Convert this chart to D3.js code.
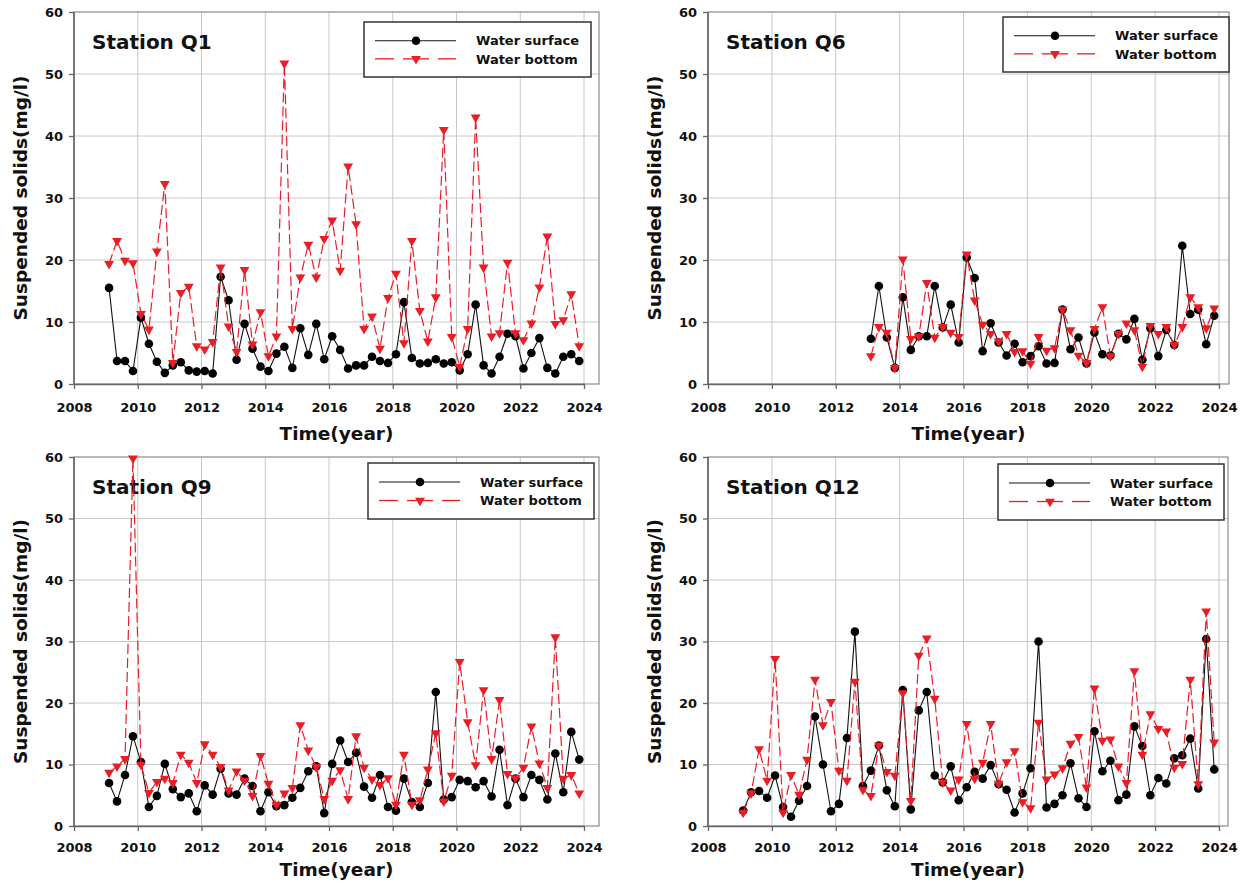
<!DOCTYPE html>
<html>
<head>
<meta charset="utf-8">
<script src="https://cdn.jsdelivr.net/npm/d3@7"></script>
<style>
  body { margin: 0; background: #fff; }
  svg text { font-family: "DejaVu Sans", Verdana, sans-serif; font-weight: bold; fill: #111; }
</style>
</head>
<body>
<svg id="chart" width="1243" height="886"></svg>
<script>
// sampling: one value per quarter, 2009 Q1 .. 2023 Q4
var firstYear = 2009;
var xTicks = [2008, 2010, 2012, 2014, 2016, 2018, 2020, 2022, 2024];
var yTicks = [0, 10, 20, 30, 40, 50, 60];
var seriesNames = ["Water surface", "Water bottom"];

var q1Surface = [15.5, 3.7, 3.7, 2.1, 10.7, 6.5, 3.6, 1.8, 3.0, 3.5,
  2.2, 2.0, 2.1, 1.7, 17.3, 13.5, 3.9, 9.7, 5.7, 2.8,
  2.1, 4.9, 6.0, 2.6, 9.0, 4.7, 9.7, 4.0, 7.7, 5.5,
  2.5, 3.0, 3.0, 4.4, 3.7, 3.4, 4.8, 13.2, 4.2, 3.3,
  3.4, 4.0, 3.3, 3.5, 2.2, 4.8, 12.8, 3.0, 1.7, 4.4,
  8.1, 7.7, 2.5, 5.0, 7.4, 2.6, 1.7, 4.4, 4.8, 3.7];
var q1Bottom = [19.4, 23.1, 19.9, 19.5, 11.3, 8.8, 21.4, 32.3, 3.4, 14.7,
  15.7, 6.1, 5.6, 6.8, 18.8, 9.3, 5.2, 18.4, 6.4, 11.6,
  4.5, 7.7, 51.7, 8.9, 17.2, 22.5, 17.2, 23.4, 26.4, 18.3,
  35.1, 25.8, 8.9, 10.9, 5.7, 13.9, 17.8, 6.6, 23.1, 11.8,
  6.9, 14.0, 41.0, 7.6, 2.8, 8.9, 43.0, 18.8, 7.7, 8.2,
  19.6, 8.2, 7.1, 9.8, 15.6, 23.8, 9.7, 10.3, 14.5, 6.1];

// Q6 starts in 2013 Q1
var q6Surface = [7.3, 15.8, 7.5, 2.6, 14.0, 5.5, 7.7, 7.7, 15.8, 9.1, 12.8, 6.7,
  20.4, 17.1, 5.3, 9.8, 6.7, 4.6, 6.5, 3.5, 4.5, 6.1,
  3.3, 3.4, 12.0, 5.6, 7.5, 3.3, 8.3, 4.8, 4.6, 8.1,
  7.2, 10.5, 3.9, 9.0, 4.5, 8.7, 6.3, 22.3, 11.3, 12.0, 6.4, 11.0];
var q6Bottom = [4.5, 9.2, 8.3, 2.6, 20.1, 7.3, 7.7, 16.3, 7.5, 9.2, 8.3, 7.6,
  20.9, 13.5, 9.6, 8.1, 6.9, 8.1, 5.2, 5.3, 3.3, 7.6,
  5.4, 5.8, 12.0, 8.7, 4.6, 3.4, 8.9, 12.4, 4.5, 8.1,
  9.8, 8.7, 2.8, 9.4, 8.1, 9.2, 6.3, 9.2, 14.0, 12.4, 9.0, 12.2];

var q9Surface = [7.0, 4.0, 8.3, 14.6, 10.4, 3.1, 4.9, 10.1, 6.0, 4.7,
  5.3, 2.4, 6.6, 5.1, 9.3, 5.3, 5.1, 7.7, 6.5, 2.4,
  5.5, 3.2, 3.4, 4.6, 6.2, 8.9, 9.7, 2.1, 10.1, 13.9,
  10.4, 11.9, 6.4, 4.6, 8.3, 3.1, 2.5, 7.7, 3.9, 3.1,
  7.0, 21.8, 4.3, 4.7, 7.5, 7.3, 6.3, 7.3, 4.8, 12.4,
  3.4, 7.7, 4.7, 8.3, 7.5, 4.3, 11.8, 5.5, 15.3, 10.8];
var q9Bottom = [8.7, 9.7, 10.9, 59.8, 10.0, 5.4, 7.2, 7.7, 7.0, 11.6,
  10.3, 7.0, 13.3, 11.6, 9.6, 5.8, 8.9, 7.4, 4.9, 11.4,
  6.9, 3.5, 5.3, 6.2, 16.4, 12.3, 9.6, 4.4, 7.4, 9.1,
  4.4, 14.6, 9.5, 7.6, 6.7, 7.8, 3.5, 11.6, 3.5, 4.2,
  9.2, 15.1, 4.0, 8.2, 26.7, 16.9, 9.9, 22.1, 10.9, 20.5,
  8.5, 7.8, 9.5, 16.2, 10.2, 6.2, 30.7, 7.7, 8.3, 5.3];

var q12Surface = [2.5, 5.5, 5.7, 4.6, 8.2, 3.1, 1.5, 4.1, 6.5, 17.8,
  10.0, 2.4, 3.6, 14.3, 31.6, 6.5, 9.0, 13.1, 5.8, 3.2,
  22.1, 2.7, 18.8, 21.8, 8.2, 7.1, 9.7, 4.2, 6.3, 8.8,
  7.7, 9.9, 6.8, 5.9, 2.2, 5.3, 9.4, 30.0, 3.0, 3.6,
  5.0, 10.2, 4.5, 3.1, 15.4, 8.9, 10.6, 4.2, 5.1, 16.2,
  13.0, 5.0, 7.8, 6.9, 11.0, 11.5, 14.2, 6.1, 30.4, 9.2];
var q12Bottom = [2.2, 5.3, 12.5, 7.4, 27.2, 2.2, 8.3, 5.1, 10.8, 23.8,
  16.4, 20.2, 9.0, 7.4, 23.5, 5.9, 4.9, 13.1, 8.8, 8.2,
  21.6, 4.1, 27.7, 30.5, 20.7, 7.1, 5.8, 7.6, 16.6, 7.7,
  10.3, 16.6, 6.9, 10.4, 12.2, 3.9, 2.9, 16.8, 7.6, 8.4,
  9.4, 13.4, 14.5, 6.3, 22.4, 13.9, 14.1, 9.7, 7.0, 25.2,
  11.6, 18.2, 15.8, 15.4, 9.5, 10.1, 23.8, 6.8, 34.9, 13.6];

var panels = [
  { title: "Station Q1", surface: q1Surface, bottom: q1Bottom, startQ: 0, pad: 14, xlab: 56,
    box: { l: 74, t: 12, r: 599, b: 384, x24: 584 }, legend: { x: 364, y: 22, w: 227, h: 55 } },
  { title: "Station Q6", surface: q6Surface, bottom: q6Bottom, startQ: 16, pad: 14, xlab: 56,
    box: { l: 708, t: 12, r: 1229, b: 384, x24: 1219 }, legend: { x: 1003, y: 17, w: 226, h: 55 } },
  { title: "Station Q9", surface: q9Surface, bottom: q9Bottom, startQ: 0, pad: 12, xlab: 50,
    box: { l: 74, t: 457, r: 599, b: 826, x24: 584 }, legend: { x: 368, y: 463, w: 226, h: 56 } },
  { title: "Station Q12", surface: q12Surface, bottom: q12Bottom, startQ: 0, pad: 12, xlab: 50,
    box: { l: 708, t: 457, r: 1228, b: 826, x24: 1219 }, legend: { x: 998, y: 464, w: 226, h: 56 } }
];

var red = "#ec1c24";
var svg = d3.select("#chart");
svg.append("rect").attr("width", 1243).attr("height", 886).attr("fill", "#fff");

function toPoints(values, startQ) {
  return values.map(function(v, i) {
    return { t: firstYear + 0.1 + (startQ + i) / 4, v: v };
  });
}

var triangle = d3.symbol().type(d3.symbolTriangle).size(42);

panels.forEach(function(p) {
  var b = p.box;
  var x = d3.scaleLinear().domain([2008, 2024]).range([b.l, b.x24]);
  var y = d3.scaleLinear().domain([0, 60]).range([b.b, b.t]);
  var g = svg.append("g");

  // grid
  g.append("g").selectAll("line").data(yTicks.slice(1, -1)).enter().append("line")
    .attr("x1", b.l).attr("x2", b.r).attr("y1", d => y(d)).attr("y2", d => y(d))
    .attr("stroke", "#c8c8c8").attr("stroke-width", 1);
  g.append("g").selectAll("line").data(xTicks.slice(1)).enter().append("line")
    .attr("x1", d => x(d)).attr("x2", d => x(d)).attr("y1", b.t).attr("y2", b.b)
    .attr("stroke", "#c8c8c8").attr("stroke-width", 1);
  g.append("rect").attr("x", b.l).attr("y", b.t).attr("width", b.r - b.l).attr("height", b.b - b.t)
    .attr("fill", "none").attr("stroke", "#8a8a8a").attr("stroke-width", 1.2);

  // axes
  var ax = g.append("g").attr("transform", "translate(0," + b.b + ")")
    .call(d3.axisBottom(x).tickValues(xTicks).tickFormat(d3.format("d")).tickSize(5).tickSizeOuter(0).tickPadding(p.pad));
  var ay = g.append("g").attr("transform", "translate(" + b.l + ",0)")
    .call(d3.axisLeft(y).tickValues(yTicks).tickSize(5).tickSizeOuter(0).tickPadding(6));
  [ax, ay].forEach(function(a) {
    a.select(".domain").attr("stroke", "#666").attr("stroke-width", 1.6);
    a.selectAll(".tick line").attr("stroke", "#666").attr("stroke-width", 1.3);
    a.selectAll(".tick text").style("font-size", "13px").attr("fill", "#111");
  });
  ay.select(".domain").attr("d", "M0," + b.b + "V" + b.t);

  // labels
  g.append("text").attr("x", (b.l + b.r) / 2).attr("y", b.b + p.xlab)
    .attr("text-anchor", "middle").style("font-size", "18.5px").text("Time(year)");
  g.append("text").attr("transform", "translate(" + (b.l - 54) + "," + ((b.t + b.b) / 2) + ") rotate(-90)")
    .attr("text-anchor", "middle").attr("dy", "0.36em").style("font-size", "18.5px")
    .text("Suspended solids(mg/l)");
  g.append("text").attr("x", b.l + 18).attr("y", b.t + 36.5).style("font-size", "20px").text(p.title);

  // series
  var line = d3.line().x(d => x(d.t)).y(d => y(d.v));
  var sPts = toPoints(p.surface, p.startQ);
  var bPts = toPoints(p.bottom, p.startQ);

  g.append("path").datum(sPts).attr("d", line).attr("fill", "none")
    .attr("stroke", "#111").attr("stroke-width", 1.1);
  g.append("g").selectAll("circle").data(sPts).enter().append("circle")
    .attr("cx", d => x(d.t)).attr("cy", d => y(d.v)).attr("r", 4.3).attr("fill", "#000");

  g.append("path").datum(bPts).attr("d", line).attr("fill", "none")
    .attr("stroke", red).attr("stroke-width", 1.2).attr("stroke-dasharray", "10,4");
  g.append("g").selectAll("path").data(bPts).enter().append("path")
    .attr("d", triangle).attr("fill", red)
    .attr("transform", d => "translate(" + x(d.t) + "," + y(d.v) + ") rotate(180)");

  // legend
  var L = p.legend;
  var lg = g.append("g").attr("transform", "translate(" + L.x + "," + L.y + ")");
  lg.append("rect").attr("width", L.w).attr("height", L.h).attr("fill", "#fff")
    .attr("stroke", "#333").attr("stroke-width", 1.5);
  var r1 = L.h * 0.34, r2 = L.h * 0.67;
  lg.append("line").attr("x1", 11).attr("x2", 92).attr("y1", r1).attr("y2", r1)
    .attr("stroke", "#111").attr("stroke-width", 1.1);
  lg.append("circle").attr("cx", 52).attr("cy", r1).attr("r", 4.3).attr("fill", "#000");
  lg.append("g").selectAll("line").data([[11, 30], [39, 65], [74, 92]]).enter().append("line")
    .attr("x1", d => d[0]).attr("x2", d => d[1]).attr("y1", r2).attr("y2", r2)
    .attr("stroke", red).attr("stroke-width", 1.3);
  lg.append("path").attr("d", triangle).attr("fill", red)
    .attr("transform", "translate(52," + r2 + ") rotate(180)");
  lg.selectAll("text.lab").data(seriesNames).enter().append("text")
    .attr("x", 112).attr("y", (d, i) => i === 0 ? r1 : r2).attr("dy", "0.36em")
    .style("font-size", "13px").text(d => d);
});
</script>
</body>
</html>
